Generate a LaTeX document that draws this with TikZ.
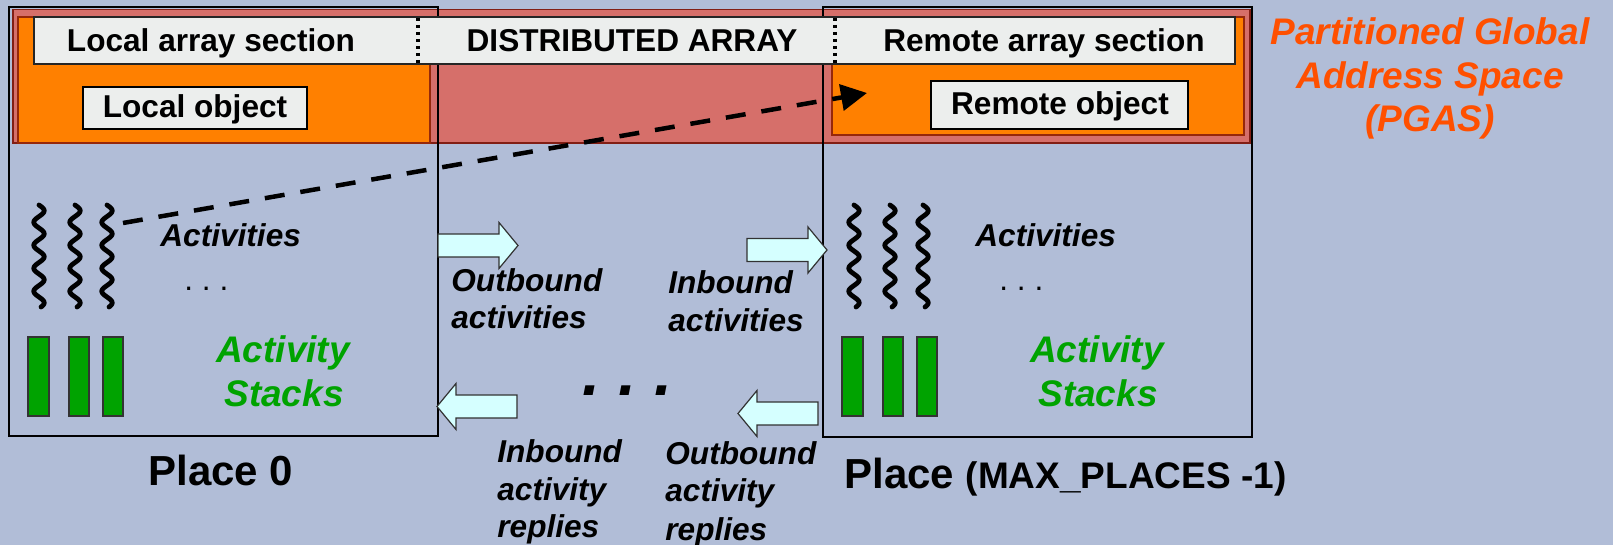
\documentclass[tikz,border=0pt]{standalone}
\usepackage{fontspec}
\setmainfont{Liberation Sans}
\usetikzlibrary{arrows.meta}

\definecolor{bgblue}{RGB}{177,189,215}
\definecolor{bandred}{RGB}{214,111,106}
\definecolor{bandedge}{RGB}{130,30,20}
\definecolor{orangefill}{RGB}{255,128,0}
\definecolor{orangeedge}{RGB}{150,40,10}
\definecolor{barfill}{RGB}{236,238,237}
\definecolor{arrowfill}{RGB}{213,255,255}
\definecolor{arrowedge}{RGB}{50,50,50}
\definecolor{stackgreen}{RGB}{0,163,0}
\definecolor{pgasorange}{RGB}{255,80,0}

\tikzset{
  placebox/.style={draw=black, line width=0.9pt},
  band/.style={fill=bandred, draw=bandedge, line width=0.8pt},
  section/.style={fill=orangefill, draw=orangeedge, line width=0.8pt},
  bar/.style={fill=barfill, draw=black!85, line width=0.9pt},
  divider/.style={draw=black, line width=1.6pt, dash pattern=on 1.6pt off 1.9pt},
  objbox/.style={fill=barfill, draw=black, line width=1.1pt},
  boxtext/.style={inner sep=0, font=\fontsize{15.8}{19}\selectfont\bfseries},
  itext/.style={inner sep=0, anchor=base west, font=\fontsize{15.8}{19}\selectfont\bfseries\itshape},
  dots/.style={inner sep=0, anchor=base west, font=\fontsize{15.8}{19}\selectfont},
  greentext/.style={inner sep=0, anchor=base, text=stackgreen, font=\fontsize{18.5}{22}\selectfont\bfseries\itshape},
  pgastext/.style={inner sep=0, anchor=base, text=pgasorange, font=\fontsize{18.5}{22}\selectfont\bfseries\itshape},
  placelbl/.style={inner sep=0, anchor=base west, font=\fontsize{21}{25}\selectfont\bfseries},
  stackbar/.style={fill=stackgreen, draw=black!80, line width=0.8pt},
  squigline/.style={draw=black, line width=2.4pt, line cap=round, line join=round},
  arrowbody/.style={fill=arrowfill, draw=arrowedge, line width=0.6pt},
  remoteref/.style={draw=black, line width=2.25pt, dash pattern=on 10pt off 8pt,
    -{Triangle[length=13pt,width=13pt]}},
  squiggle/.pic={
    \draw[squigline] plot[domain=0:102, samples=100, smooth]
      ({5.2*sin(15.652*\x)}, {\x});
  },
  barrow/.pic={
    \draw[arrowbody] (0,-11.5) -- (61,-11.5) -- (61,-23) -- (80,0)
      -- (61,23) -- (61,11.5) -- (0,11.5) -- cycle;
  }
}

\begin{document}
\begin{tikzpicture}[x=0.5pt, y=-0.5pt]
  % canvas
  \fill[bgblue] (0,0) rectangle (1613,545);
  \useasboundingbox (0,0) rectangle (1613,545);

  % distributed array band
  \draw[band] (13,9.5) rectangle (1250,143);

  % the two places
  \draw[placebox] (9,7) rectangle (438,436);
  \draw[placebox] (823,7) rectangle (1252,437);

  % local and remote array sections
  \draw[section] (18,17) rectangle (430,143);
  \draw[section] (832,17) rectangle (1244,135);

  % array header bar with section dividers
  \draw[bar] (34,17) rectangle (1235,64);
  \draw[divider] (418,18) -- (418,63);
  \draw[divider] (835,18) -- (835,63);
  \node[boxtext, anchor=base] (tlocal) at (211,52) {Local array section};
  \node[boxtext, anchor=base] (tdist) at (632,52) {DISTRIBUTED ARRAY};
  \node[boxtext, anchor=base] (tremote) at (1044,52) {Remote array section};

  % objects
  \draw[objbox] (83,87) rectangle (307,129);
  \node[boxtext, anchor=base] (lobj) at (195,118) {Local object};
  \draw[objbox] (931,81) rectangle (1188,129);
  \node[boxtext, anchor=base] (robj) at (1060,115) {Remote object};

  % activities (threads) in place 0
  \pic at (39,205) {squiggle};
  \pic at (75,205) {squiggle};
  \pic at (107,205) {squiggle};
  % activities in the remote place
  \pic at (854,205) {squiggle};
  \pic at (890,205) {squiggle};
  \pic at (923,205) {squiggle};

  % activity stacks
  \draw[stackbar] (28,337) rectangle (49,416);
  \draw[stackbar] (69,337) rectangle (89,416);
  \draw[stackbar] (103,337) rectangle (123,416);
  \draw[stackbar] (842,337) rectangle (863,416);
  \draw[stackbar] (883,337) rectangle (903,416);
  \draw[stackbar] (917,337) rectangle (937,416);

  % place 0 labels
  \node[itext] (act0) at (160,247) {Activities};
  \node[dots] (dots0) at (184,291) {.\ .\ .};
  \node[greentext] (stk0a) at (283,363) {Activity};
  \node[greentext] (stk0b) at (284,407) {Stacks};

  % remote place labels
  \node[itext] (act1) at (975,247) {Activities};
  \node[dots] (dots1) at (999,291) {.\ .\ .};
  \node[greentext] (stk1a) at (1097,363) {Activity};
  \node[greentext] (stk1b) at (1098,407) {Stacks};

  % remote reference from an activity to the remote object
  \coordinate (dashfrom) at (123,223);
  \coordinate (dashto) at (867,93);
  \draw[remoteref] (dashfrom) -- (dashto);

  % activity transfer arrows
  \pic at (438,245.5) {barrow};
  \pic at (747,250) {barrow};
  \pic[xscale=-1] at (517,406.5) {barrow};
  \pic[xscale=-1] at (818,413.5) {barrow};

  \node[itext] (outa1) at (451,292) {Outbound};
  \node[itext] (outa2) at (451,329) {activities};
  \node[itext] (ina1) at (668,294) {Inbound};
  \node[itext] (ina2) at (668,332) {activities};
  \node[itext] (inr1) at (497,462) {Inbound};
  \node[itext] (inr2) at (497,500) {activity};
  \node[itext] (inr3) at (497,537) {replies};
  \node[itext] (outr1) at (665,465) {Outbound};
  \node[itext] (outr2) at (665,502) {activity};
  \node[itext] (outr3) at (665,540) {replies};

  \node[inner sep=0, anchor=base west, font=\fontsize{32.5}{39}\selectfont\bfseries\itshape]
    (moredots) at (582,395) {.\ .\ .};

  % place names
  \node[placelbl] (p0) at (148,485) {Place 0};
  \node[placelbl] (pn) at (844,488) {Place {\fontsize{18.5}{22}\selectfont (MAX\_PLACES -1)}};

  % PGAS caption
  \node[pgastext] (pg1) at (1430,45) {Partitioned Global};
  \node[pgastext] (pg2) at (1430,89) {Address Space};
  \node[pgastext] (pg3) at (1430,132) {(PGAS)};
\end{tikzpicture}
\end{document}
